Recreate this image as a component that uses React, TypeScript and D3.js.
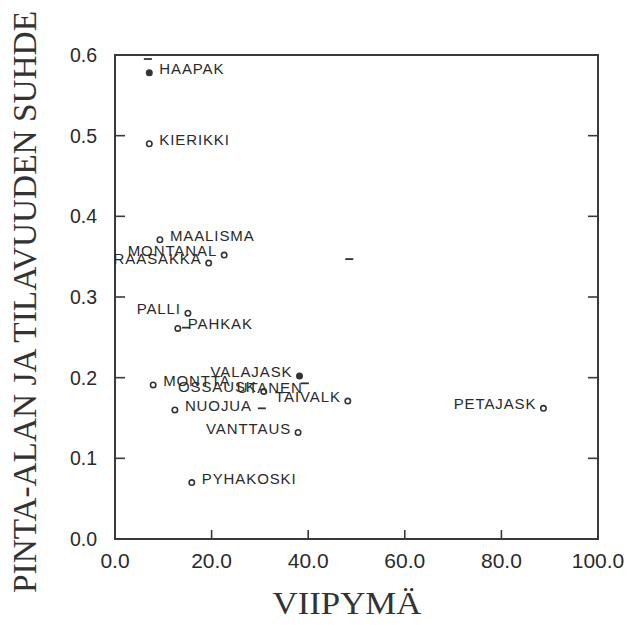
import React from "react";
import * as d3 from "d3";

// ---- data ----
const names = [
  "HAAPAK", "KIERIKKI", "MAALISMA", "MONTANAL", "RAASAKKA", "PALLI", "PAHKAK",
  "VALAJASK", "MONTTA", "OSSAUSK", "UTANEN", "TAIVALK", "NUOJUA", "VANTTAUS",
  "PYHAKOSKI", "PETAJASK",
];
const viipyma = [7.1, 7.1, 9.3, 22.6, 19.4, 15.1, 13.0, 38.2, 7.9, 30.8, 40.3, 48.2, 12.4, 37.9, 15.9, 88.7];
const suhde = [0.578, 0.49, 0.371, 0.352, 0.342, 0.28, 0.261, 0.202, 0.191, 0.183, 0.182, 0.171, 0.16, 0.132, 0.07, 0.162];
// label side: "L" = label left of point, "R" = label right of point
const labelSide = ["R", "R", "R", "L", "L", "L", "R", "L", "R", "L", "L", "L", "R", "L", "R", "L"];
const filledPoints = ["HAAPAK", "VALAJASK"];
const noMarker = ["UTANEN"];

// secondary small dash marks
const dashX = [6.8, 48.5, 30.4, 14.7, 39.3];
const dashY = [0.595, 0.347, 0.162, 0.262, 0.193];

const xTicks = [0, 20, 40, 60, 80, 100];
const yTicks = [0, 0.1, 0.2, 0.3, 0.4, 0.5, 0.6];
const xTitle = "VIIPYMÄ";
const yTitle = "PINTA-ALAN JA TILAVUUDEN SUHDE";

export default function App() {
  const W = 627, H = 625;
  const left = 115, right = 598, top = 55, bottom = 539;
  const x = d3.scaleLinear().domain([0, 100]).range([left, right]);
  const y = d3.scaleLinear().domain([0, 0.6]).range([bottom, top]);
  const ink = "#2a2a2a";
  const sans = "'Liberation Sans', Arial, Helvetica, sans-serif";
  const serif = "'Liberation Serif', 'Times New Roman', serif";

  return (
    <svg width={W} height={H} style={{ position: "absolute", left: 0, top: 0, background: "#fff" }}>
      <rect x={0} y={0} width={W} height={H} fill="#fff" />
      {/* frame */}
      <rect x={left} y={top} width={right - left} height={bottom - top} fill="none" stroke="#3a3a3a" strokeWidth={2} />
      {/* x ticks */}
      {xTicks.filter((t) => t > 0 && t < 100).map((t) => (
        <line key={"xt" + t} x1={x(t)} x2={x(t)} y1={bottom} y2={bottom - 9} stroke="#3a3a3a" strokeWidth={1.6} />
      ))}
      {/* y ticks left & right */}
      {yTicks.filter((t) => t > 0 && t < 0.6).map((t) => (
        <g key={"yt" + t}>
          <line x1={left} x2={left + 10} y1={y(t)} y2={y(t)} stroke="#3a3a3a" strokeWidth={1.6} />
          <line x1={right} x2={right - 10} y1={y(t)} y2={y(t)} stroke="#3a3a3a" strokeWidth={1.6} />
        </g>
      ))}
      {/* x tick labels */}
      {xTicks.map((t) => (
        <text key={"xl" + t} x={x(t)} y={568} textAnchor="middle" fontFamily={sans} fontSize={21} fill={ink}>
          {t.toFixed(1)}
        </text>
      ))}
      {/* y tick labels */}
      {yTicks.map((t) => (
        <text key={"yl" + t} x={97} y={y(t) + 7} textAnchor="end" fontFamily={sans} fontSize={19.5} fill={ink}>
          {t.toFixed(1)}
        </text>
      ))}
      {/* titles */}
      <text x={347} y={614} textAnchor="middle" fontFamily={serif} fontSize={31} fill="#333" textLength={149} lengthAdjust="spacingAndGlyphs">
        {xTitle}
      </text>
      <text transform={`translate(36,302) rotate(-90)`} textAnchor="middle" fontFamily={serif} fontSize={33} fill="#333" textLength={582} lengthAdjust="spacingAndGlyphs">
        {yTitle}
      </text>
      {/* dash marks */}
      {dashX.map((dx, i) => (
        <line key={"d" + i} x1={x(dx) - 4} x2={x(dx) + 4} y1={y(dashY[i])} y2={y(dashY[i])} stroke="#333" strokeWidth={1.8} />
      ))}
      {/* points */}
      {names.map((n, i) => {
        const px = x(viipyma[i]);
        const py = y(suhde[i]);
        const side = labelSide[i];
        return (
          <g key={n}>
            {!noMarker.includes(n) && (
              <circle cx={px} cy={py} r={2.7} fill={filledPoints.includes(n) ? "#333" : "#fff"} stroke="#333" strokeWidth={1.6} />
            )}
            <text
              x={side === "R" ? px + 10 : px - 7}
              y={py + 1}
              textAnchor={side === "R" ? "start" : "end"}
              fontFamily={sans}
              fontSize={15}
              letterSpacing={0.9}
              fill={ink}
            >
              {n}
            </text>
          </g>
        );
      })}
    </svg>
  );
}
